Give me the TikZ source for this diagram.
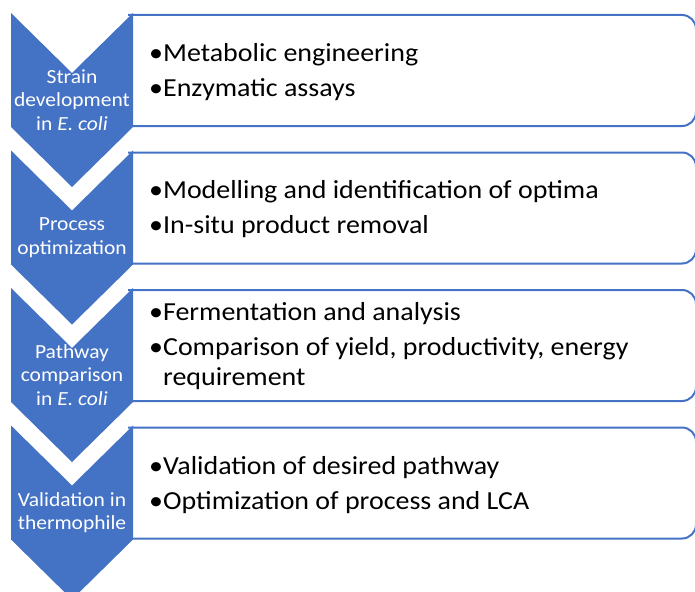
\documentclass[tikz,border=0pt]{standalone}
\usepackage{fontspec}
\setmainfont{Carlito}[FakeStretch=1.075]
\definecolor{chevblue}{HTML}{4472C4}

\begin{document}
\begin{tikzpicture}[x=1pt,y=-1pt,
  chev/.style={fill=chevblue,draw=none},
  listbox/.style={draw=chevblue,line width=2pt},
  steplabel/.style={text=white,align=center,inner sep=0pt,font=\fontsize{20}{23.5}\selectfont},
  items/.style={anchor=west,align=left,inner sep=0pt,font=\fontsize{26}{30}\selectfont}]
  \useasboundingbox (0,0) rectangle (695,591);
  \draw[listbox] (128,15) [rounded corners=14pt] -- (696,15) -- (696,126) -- (128,126);
  \draw[listbox] (128,152.5) [rounded corners=14pt] -- (696,152.5) -- (696,263.5) -- (128,263.5);
  \draw[listbox] (128,290) [rounded corners=14pt] -- (696,290) -- (696,401) -- (128,401);
  \draw[listbox] (128,427.5) [rounded corners=14pt] -- (696,427.5) -- (696,538.5) -- (128,538.5);
  \fill[chev] (11,13) -- (72,73) -- (133,13) -- (133,127) -- (72,187) -- (11,127) -- cycle;
  \fill[chev] (11,150.5) -- (72,210.5) -- (133,150.5) -- (133,264.5) -- (72,324.5) -- (11,264.5) -- cycle;
  \fill[chev] (11,288) -- (72,348) -- (133,288) -- (133,402) -- (72,462) -- (11,402) -- cycle;
  \fill[chev] (11,425.5) -- (72,485.5) -- (133,425.5) -- (133,539.5) -- (72,599.5) -- (11,539.5) -- cycle;
  \node[steplabel] (strain) at (72,100) {Strain\\development\\in \textit{E. coli}};
  \node[steplabel] (process) at (72,237.5) {Process\\optimization};
  \node[steplabel] (pathway) at (72,375) {Pathway\\comparison\\in \textit{E. coli}};
  \node[steplabel] (thermo) at (72,512.5) {Validation in\\thermophile};
  \node[items] (strainlist) at (149,72.5) {•Metabolic engineering\\[5pt]•Enzymatic assays};
  \node[items] (processlist) at (149,209.5) {•Modelling and identification of optima\\[5pt]•In-situ product removal};
  \node[items] (pathwaylist) at (149,346.5) {•Fermentation and analysis\\[5pt]•Comparison of yield, productivity, energy\\\phantom{•}requirement};
  \node[items] (thermolist) at (149,485) {•Validation of desired pathway\\[5pt]•Optimization of process and LCA};
\end{tikzpicture}
\end{document}
